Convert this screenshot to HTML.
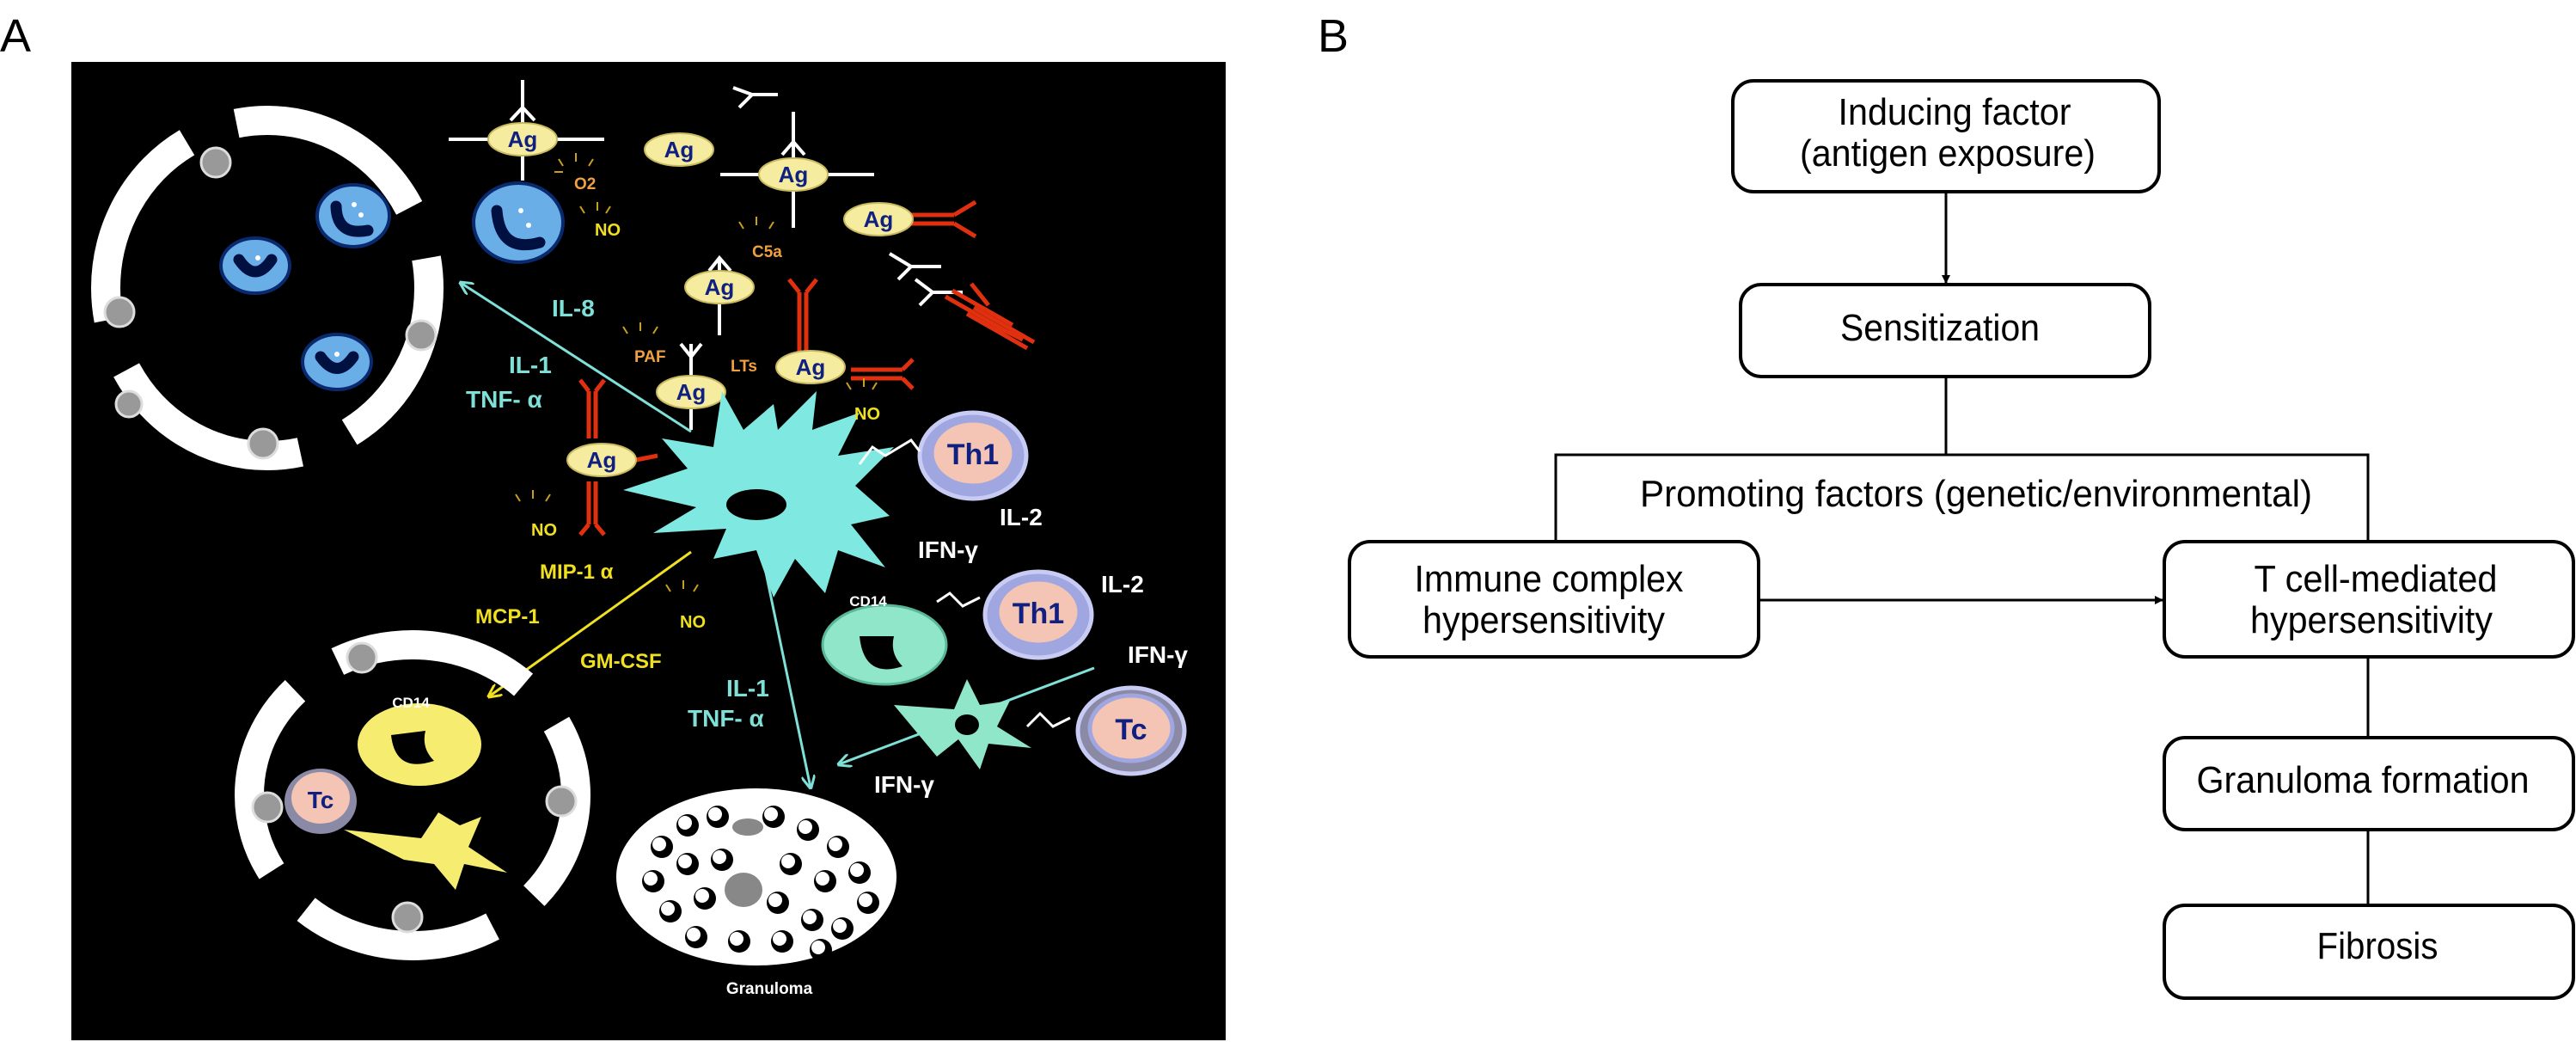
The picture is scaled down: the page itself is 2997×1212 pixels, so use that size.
<!DOCTYPE html>
<html><head><meta charset="utf-8"><style>
html,body{margin:0;padding:0;background:#fff;}
svg{display:block;}
text{font-family:"Liberation Sans",Arial,sans-serif;}
</style></head><body>
<svg width="2997" height="1212" viewBox="0 0 2997 1212" xmlns="http://www.w3.org/2000/svg">
<defs>
<marker id="ak" markerWidth="10" markerHeight="10" refX="9" refY="5" orient="auto" markerUnits="userSpaceOnUse"><path d="M0,0 L10,5 L0,10 z" fill="#000"/></marker>
<marker id="ac" markerWidth="16" markerHeight="16" refX="14" refY="8" orient="auto" markerUnits="userSpaceOnUse"><path d="M0,0 L16,8 L0,16" fill="none" stroke="#7fe0d8" stroke-width="3"/></marker>
<marker id="ay" markerWidth="16" markerHeight="16" refX="14" refY="8" orient="auto" markerUnits="userSpaceOnUse"><path d="M0,0 L16,8 L0,16" fill="none" stroke="#f0e020" stroke-width="3"/></marker>
<g id="gb"><circle r="13" fill="#000"/><circle cx="-3" cy="-3" r="8" fill="#fff"/></g>
</defs>

<!-- Panel A -->
<text x="0" y="60" font-size="54">A</text>
<rect x="83" y="72" width="1343" height="1138" fill="#000"/>

<!-- top-left vessel -->
<ellipse cx="311" cy="335" rx="188" ry="195" fill="none" stroke="#fff" stroke-width="34" stroke-dasharray="240 62" stroke-dashoffset="40"/>
<g fill="#999" stroke="#ddd" stroke-width="3">
<circle cx="251" cy="189" r="17"/><circle cx="139" cy="363" r="17"/><circle cx="490" cy="390" r="17"/><circle cx="306" cy="516" r="17"/><circle cx="150" cy="470" r="15"/>
</g>
<!-- neutrophils -->
<g stroke="#0a2a70" stroke-width="4">
<ellipse cx="411" cy="251" rx="42" ry="36" fill="#6aaee8"/>
<ellipse cx="297" cy="309" rx="40" ry="32" fill="#6aaee8"/>
<ellipse cx="392" cy="421" rx="40" ry="32" fill="#6aaee8"/>
<ellipse cx="603" cy="259" rx="52" ry="46" fill="#6aaee8"/>
</g>
<g fill="none" stroke="#001040" stroke-width="13" stroke-linecap="round">
<path d="M391,240 Q392,275 428,268"/><path d="M278,302 Q297,330 316,302"/><path d="M373,415 Q392,442 411,415"/><path d="M578,245 Q582,295 628,282"/>
</g>
<g fill="#fff"><circle cx="412" cy="238" r="3"/><circle cx="420" cy="250" r="3"/><circle cx="300" cy="300" r="3"/><circle cx="392" cy="412" r="3"/><circle cx="606" cy="245" r="3"/><circle cx="615" cy="262" r="3"/></g>

<!-- white antibodies -->
<g stroke="#fff" stroke-width="4" fill="none">
<path d="M522,162 H703 M608,93 V210 M594,140 L608,125 L622,140"/>
<path d="M838,203 H1017 M923,130 V265 M910,180 L923,165 L936,180"/>
<path d="M853,102 L875,110 L860,125 M875,110 H905"/>
<path d="M1035,295 L1060,310 L1045,325 M1060,310 H1095"/>
<path d="M1065,325 L1085,340 L1070,355 M1085,340 H1120"/>
<path d="M837,300 V390 M825,315 L837,300 L850,315"/>
<path d="M804,400 V500 M792,400 L804,415 L816,400"/>
</g>
<!-- red antibodies -->
<g stroke="#e03010" stroke-width="5" fill="none">
<path d="M1060,250 H1110 M1060,260 H1110 M1110,250 L1135,235 M1110,260 L1135,275"/>
<path d="M1100,345 L1170,385 M1108,338 L1178,378 M1130,330 L1150,355 M1160,380 L1190,395"/>
<path d="M1125,365 L1195,405 M1133,358 L1203,398"/>
<path d="M930,340 V410 M938,340 V410 M930,340 L918,325 M938,340 L950,325"/>
<path d="M990,430 H1050 M990,440 H1050 M1050,430 L1062,418 M1050,440 L1062,452"/>
<path d="M685,455 V510 M693,455 V510 M685,455 L675,442 M693,455 L703,442"/>
<path d="M685,560 V610 M693,560 V610 M685,610 L675,622 M693,610 L703,622"/>
<path d="M740,535 L765,530"/>
</g>

<!-- Ag ellipses -->
<g fill="#f6eca0" stroke="#c8b860" stroke-width="2">
<ellipse cx="608" cy="162" rx="40" ry="19"/><ellipse cx="790" cy="174" rx="40" ry="19"/>
<ellipse cx="923" cy="203" rx="40" ry="19"/><ellipse cx="1022" cy="255" rx="40" ry="19"/>
<ellipse cx="837" cy="334" rx="40" ry="19"/><ellipse cx="804" cy="456" rx="40" ry="19"/>
<ellipse cx="943" cy="427" rx="40" ry="19"/><ellipse cx="700" cy="535" rx="40" ry="19"/>
</g>
<g fill="#102080" font-size="26" font-weight="bold" text-anchor="middle">
<text x="608" y="171">Ag</text><text x="790" y="183">Ag</text><text x="923" y="212">Ag</text><text x="1022" y="264">Ag</text>
<text x="837" y="343">Ag</text><text x="804" y="465">Ag</text><text x="943" y="436">Ag</text><text x="700" y="544">Ag</text>
</g>

<!-- arrows -->
<g stroke-width="3" fill="none">
<line x1="804" y1="502" x2="536" y2="329" stroke="#7fe0d8" marker-end="url(#ac)"/>
<line x1="804" y1="642" x2="569" y2="810" stroke="#f0e020" marker-end="url(#ay)"/>
<line x1="890" y1="661" x2="943" y2="916" stroke="#7fe0d8" marker-end="url(#ac)"/>
<line x1="1273" y1="777" x2="976" y2="889" stroke="#7fe0d8" marker-end="url(#ac)"/>
</g>

<!-- dendritic cell -->
<polygon points="840,455 865,500 900,470 905,500 950,455 945,500 1000,480 975,530 1040,520 995,565 1035,600 990,610 1030,660 975,640 960,690 925,650 900,695 880,640 830,650 845,615 760,620 810,590 725,570 800,545 770,510 830,520" fill="#7fe8e0"/>
<ellipse cx="880" cy="587" rx="35" ry="18" fill="#000"/>

<!-- Th1 / Tc -->
<g stroke-width="5">
<ellipse cx="1132" cy="530" rx="62" ry="50" fill="#9fa6e0" stroke="#c8ccf4"/>
<ellipse cx="1132" cy="527" rx="48" ry="38" fill="#f4c4b4" stroke="#9fa6e0"/>
<ellipse cx="1208" cy="715" rx="62" ry="50" fill="#9fa6e0" stroke="#c8ccf4"/>
<ellipse cx="1208" cy="712" rx="48" ry="38" fill="#f4c4b4" stroke="#9fa6e0"/>
<ellipse cx="1316" cy="850" rx="62" ry="50" fill="#8a8aa6" stroke="#c8ccf4"/>
<ellipse cx="1316" cy="847" rx="48" ry="38" fill="#f4c4b4" stroke="#9fa6e0"/>
</g>
<g fill="#102080" font-size="34" font-weight="bold" text-anchor="middle">
<text x="1132" y="540" font-family="Liberation Serif,serif">Th1</text>
<text x="1208" y="725" font-family="Liberation Serif,serif">Th1</text>
<text x="1316" y="860" font-family="Liberation Serif,serif">Tc</text>
</g>
<g stroke="#fff" stroke-width="3" fill="none">
<path d="M1000,540 L1015,520 L1030,530 L1060,512 L1070,525"/>
<path d="M1090,700 L1105,690 L1120,705 L1140,695"/>
<path d="M1195,845 L1210,830 L1225,845 L1245,835"/>
</g>

<!-- CD14 green cell -->
<ellipse cx="1029" cy="750" rx="72" ry="46" fill="#8fe6c8" stroke="#5ab89a" stroke-width="3"/>
<path d="M1000,740 Q1005,790 1050,775 Q1035,760 1040,740 Z" fill="#000"/>
<text x="1010" y="705" fill="#fff" font-size="17" font-weight="bold" text-anchor="middle">CD14</text>
<polygon points="1040,820 1110,825 1125,790 1140,820 1175,815 1160,845 1200,870 1150,865 1140,895 1115,860 1090,880" fill="#8fe6c8"/>
<ellipse cx="1125" cy="843" rx="14" ry="12" fill="#000"/>

<!-- bottom-left vessel -->
<ellipse cx="480" cy="925" rx="190" ry="175" fill="none" stroke="#fff" stroke-width="34" stroke-dasharray="230 60" stroke-dashoffset="100"/>
<g fill="#999" stroke="#ddd" stroke-width="3">
<circle cx="421" cy="765" r="17"/><circle cx="311" cy="939" r="17"/><circle cx="653" cy="932" r="17"/><circle cx="474" cy="1067" r="17"/>
</g>
<ellipse cx="488" cy="866" rx="72" ry="48" fill="#f6ec70"/>
<path d="M455,855 Q460,900 505,885 Q490,870 495,850 Z" fill="#000"/>
<text x="478" y="823" fill="#fff" font-size="17" font-weight="bold" text-anchor="middle">CD14</text>
<ellipse cx="373" cy="932" rx="42" ry="38" fill="#8a8aa6"/>
<ellipse cx="373" cy="928" rx="34" ry="30" fill="#f4c4b4"/>
<text x="373" y="940" fill="#102080" font-family="Liberation Serif,serif" font-size="28" font-weight="bold" text-anchor="middle">Tc</text>
<polygon points="400,965 490,975 510,945 535,960 560,950 545,985 590,1015 540,1005 530,1035 505,1005 470,1000" fill="#f6ec70"/>

<!-- granuloma -->
<ellipse cx="880" cy="1020" rx="163" ry="103" fill="#fff"/>
<use href="#gb" x="770" y="985"/><use href="#gb" x="800" y="960"/><use href="#gb" x="835" y="950"/><use href="#gb" x="900" y="950"/><use href="#gb" x="940" y="965"/><use href="#gb" x="975" y="985"/><use href="#gb" x="1000" y="1015"/>
<use href="#gb" x="760" y="1025"/><use href="#gb" x="800" y="1005"/><use href="#gb" x="840" y="1000"/><use href="#gb" x="920" y="1005"/><use href="#gb" x="960" y="1025"/><use href="#gb" x="1010" y="1050"/>
<use href="#gb" x="780" y="1060"/><use href="#gb" x="820" y="1045"/><use href="#gb" x="905" y="1050"/><use href="#gb" x="945" y="1070"/><use href="#gb" x="980" y="1080"/>
<use href="#gb" x="810" y="1090"/><use href="#gb" x="860" y="1095"/><use href="#gb" x="910" y="1095"/><use href="#gb" x="955" y="1105"/>
<ellipse cx="865" cy="1035" rx="22" ry="20" fill="#888"/>
<ellipse cx="870" cy="962" rx="18" ry="10" fill="#888"/>

<!-- labels -->
<g font-weight="bold" font-size="28" fill="#7fe0d8">
<text x="642" y="368">IL-8</text><text x="592" y="434">IL-1</text><text x="542" y="474">TNF- α</text>
<text x="845" y="810">IL-1</text><text x="800" y="845">TNF- α</text>
</g>
<g font-weight="bold" font-size="28" fill="#fff">
<text x="1163" y="611">IL-2</text><text x="1068" y="649">IFN-γ</text><text x="1281" y="689">IL-2</text><text x="1312" y="771">IFN-γ</text><text x="1017" y="922">IFN-γ</text>
</g>
<text x="895" y="1156" fill="#fff" font-size="19" font-weight="bold" text-anchor="middle">Granuloma</text>
<g font-weight="bold" font-size="20" fill="#f0e020">
<text x="692" y="274">NO</text><text x="994" y="488">NO</text><text x="618" y="623">NO</text><text x="791" y="730">NO</text>
<text x="628" y="673" font-size="24">MIP-1 α</text><text x="553" y="725" font-size="24">MCP-1</text><text x="675" y="777" font-size="24">GM-CSF</text>
</g>
<g font-weight="bold" font-size="19" fill="#f0a040">
<text x="668" y="220">O2</text><text x="875" y="299">C5a</text><text x="738" y="421">PAF</text><text x="850" y="432">LTs</text>
</g>
<g stroke="#c8a020" stroke-width="2">
<path d="M650,185 l5,8 M670,178 v10 M690,185 l-5,8 M645,200 h10"/>
<path d="M675,240 l5,8 M695,235 v10 M710,240 l-5,8"/>
<path d="M860,258 l5,8 M880,252 v10 M900,258 l-5,8"/>
<path d="M725,380 l5,8 M745,375 v10 M765,380 l-5,8"/>
<path d="M985,445 l5,8 M1005,440 v10 M1020,445 l-5,8"/>
<path d="M600,575 l5,8 M620,570 v10 M640,575 l-5,8"/>
<path d="M775,680 l5,8 M795,675 v10 M812,680 l-5,8"/>
</g>

<!-- Panel B -->
<text x="1533" y="60" font-size="54">B</text>
<g fill="#fff" stroke="#000" stroke-width="4">
<rect x="2016" y="94" width="496" height="129" rx="24"/>
<rect x="2025" y="331" width="476" height="107" rx="24"/>
<rect x="1570" y="630" width="476" height="134" rx="24"/>
<rect x="2518" y="630" width="476" height="134" rx="24"/>
<rect x="2518" y="858" width="476" height="107" rx="24"/>
<rect x="2518" y="1053" width="476" height="108" rx="24"/>
</g>
<g stroke="#000" stroke-width="3" fill="none">
<line x1="2264" y1="223" x2="2264" y2="329" marker-end="url(#ak)"/>
<path d="M2264,438 V529 M1810,630 V529 H2755 V630"/>
<line x1="2046" y1="698" x2="2516" y2="698" marker-end="url(#ak)"/>
<path d="M2755,764 V858 M2755,965 V1053"/>
</g>
<g font-size="44" text-anchor="middle" fill="#000">
<text x="2274" y="145" textLength="271" lengthAdjust="spacingAndGlyphs">Inducing factor</text>
<text x="2266" y="193" textLength="344" lengthAdjust="spacingAndGlyphs">(antigen exposure)</text>
<text x="2257" y="396" textLength="232" lengthAdjust="spacingAndGlyphs">Sensitization</text>
<text x="2299" y="589" textLength="782" lengthAdjust="spacingAndGlyphs">Promoting factors (genetic/environmental)</text>
<text x="1802" y="688" textLength="313" lengthAdjust="spacingAndGlyphs">Immune complex</text>
<text x="1796" y="736" textLength="282" lengthAdjust="spacingAndGlyphs">hypersensitivity</text>
<text x="2764" y="688" textLength="283" lengthAdjust="spacingAndGlyphs">T cell-mediated</text>
<text x="2759" y="736" textLength="282" lengthAdjust="spacingAndGlyphs">hypersensitivity</text>
<text x="2749" y="922" textLength="387" lengthAdjust="spacingAndGlyphs">Granuloma formation</text>
<text x="2766" y="1115" textLength="141" lengthAdjust="spacingAndGlyphs">Fibrosis</text>
</g>
</svg>
</body></html>
